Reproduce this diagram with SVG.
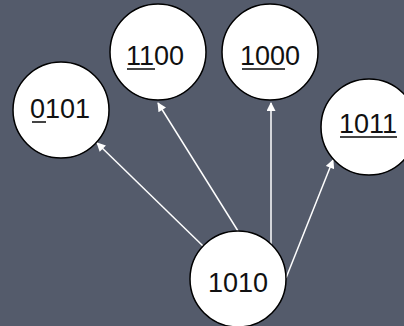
<svg xmlns="http://www.w3.org/2000/svg" width="404" height="326" viewBox="0 0 404 326">
<defs>
<marker id="ah" viewBox="0 0 10 10" refX="9" refY="5" markerWidth="10" markerHeight="9" markerUnits="userSpaceOnUse" orient="auto">
<path d="M0,0 L10,5 L0,10 z" fill="#ffffff"/>
</marker>
<style>
.n{fill:#ffffff;stroke:#000000;stroke-width:1.5}
.t{font-family:"Liberation Sans",Arial,sans-serif;font-size:27px;fill:#111111;text-anchor:middle}
.u{stroke:#444444;stroke-width:2}
.e{stroke:#ffffff;stroke-width:1.5;fill:none;marker-end:url(#ah)}
</style>
</defs>
<rect width="404" height="326" fill="#545b6b"/>
<g id="connectors">
<line class="e" x1="203" y1="246" x2="97" y2="143"/>
<line class="e" x1="238" y1="231" x2="158" y2="103"/>
<line class="e" x1="271" y1="245" x2="271" y2="103"/>
<line class="e" x1="286" y1="278" x2="333" y2="160"/>
</g>
<g id="node-0101">
<circle class="n" cx="61" cy="110" r="48"/>
<text class="t" x="60" y="118">0101</text>
<line class="u" x1="32" y1="122" x2="46" y2="122"/>
</g>
<g id="node-1100">
<circle class="n" cx="158" cy="52" r="48"/>
<text class="t" x="155" y="65">1100</text>
<line class="u" x1="127" y1="69" x2="155" y2="69"/>
</g>
<g id="node-1000">
<circle class="n" cx="270" cy="52" r="48"/>
<text class="t" x="270" y="65">1000</text>
<line class="u" x1="242" y1="69" x2="285" y2="69"/>
</g>
<g id="node-1011">
<circle class="n" cx="369" cy="127" r="48"/>
<text class="t" x="368" y="133">1011</text>
<line class="u" x1="340" y1="137" x2="397" y2="137"/>
</g>
<g id="node-1010">
<circle class="n" cx="238" cy="279" r="48"/>
<text class="t" x="238" y="292">1010</text>
</g>
</svg>
